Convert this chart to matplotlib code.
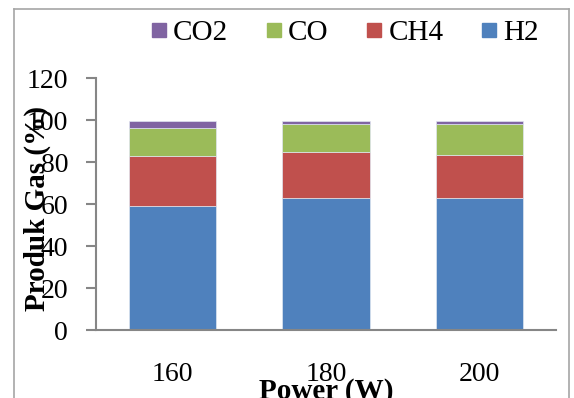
import matplotlib
matplotlib.use('Agg')
import matplotlib.pyplot as plt
from matplotlib.lines import Line2D
import numpy as np

powers = ['160', '180', '200']
h2 = [59.0, 63.0, 63.0]
ch4 = [23.8, 21.9, 20.3]
co = [13.3, 13.4, 15.0]
co2 = [3.3, 1.3, 1.3]

colors = {'H2': '#4F81BD', 'CH4': '#C0504D', 'CO': '#9BBB59', 'CO2': '#8064A2'}

plt.rcParams['font.family'] = ['Liberation Serif', 'DejaVu Serif']

fig = plt.figure(figsize=(5.74, 3.98), dpi=100)
ax = fig.add_axes([96 / 574, 68 / 398, 460 / 574, 252 / 398])

x = np.arange(len(powers))
w = 0.57
bottom = np.zeros(len(powers))
for name, vals in [('H2', h2), ('CH4', ch4), ('CO', co), ('CO2', co2)]:
    ax.bar(x, vals, w, bottom=bottom, color=colors[name], edgecolor='#dfe6f0', linewidth=0.5, label=name)
    bottom += np.array(vals)

ax.set_xlim(-0.5, 2.5)
ax.set_ylim(0, 120)
ax.set_yticks(range(0, 121, 20))
ax.set_xticks(x)
ax.set_xticklabels(powers)

for s in ['top', 'right']:
    ax.spines[s].set_visible(False)
for s in ['left', 'bottom']:
    ax.spines[s].set_color('#868686')
    ax.spines[s].set_linewidth(1.5)
ax.tick_params(axis='y', length=7, width=1.5, color='#868686', pad=13, labelsize=20)
ax.tick_params(axis='x', length=0, pad=23, labelsize=20)

ax.set_xlabel('Power (W)', fontsize=21, fontweight='bold', va='top')
ax.xaxis.set_label_coords(0.5, -0.19)
ax.set_ylabel('Produk Gas (%)', fontsize=21, fontweight='bold', va='bottom')
ax.yaxis.set_label_coords(-0.098, 0.484)

handles = [Line2D([], [], marker='s', linestyle='none', markersize=10,
                  color=colors[n]) for n in ['CO2', 'CO', 'CH4', 'H2']]
fig.legend(handles, ['CO2', 'CO', 'CH4', 'H2'], loc='center', bbox_to_anchor=(0.6, 1 - 33 / 398),
           ncol=4, frameon=False, fontsize=21, handlelength=0.6, handletextpad=0.2,
           columnspacing=1.25, borderpad=0)

# outer chart-area border
bc = '#a6a6a6'
x0, x1, yt = 14 / 574, 569 / 574, 1 - 9 / 398
fig.add_artist(Line2D([x0, x0], [-0.05, yt], color=bc, lw=1.2, transform=fig.transFigure))
fig.add_artist(Line2D([x0, x1], [yt, yt], color=bc, lw=1.2, transform=fig.transFigure))
fig.add_artist(Line2D([x1, x1], [yt, -0.05], color=bc, lw=1.2, transform=fig.transFigure))

fig.savefig('out.png', dpi=100)
